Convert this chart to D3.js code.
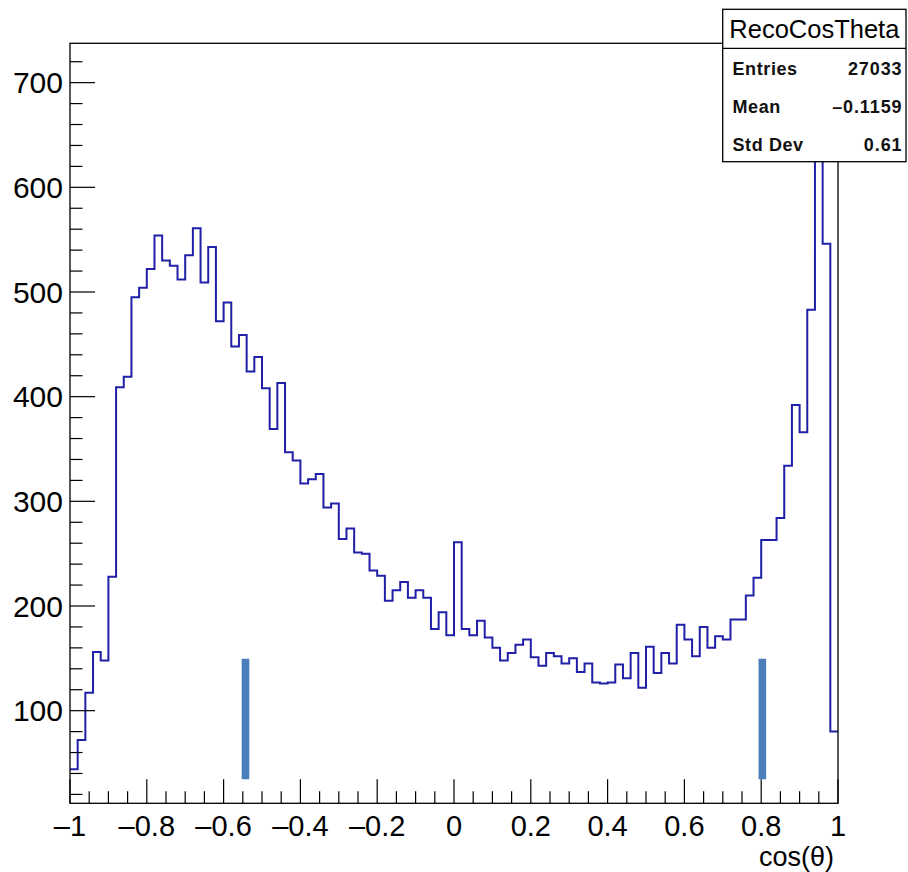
<!DOCTYPE html>
<html>
<head>
<meta charset="utf-8">
<script src="https://cdn.jsdelivr.net/npm/d3@7"></script>
<style>
  html, body { margin: 0; padding: 0; background: #fff; }
  svg { display: block; }
  text { font-family: "Liberation Sans", Arial, Helvetica, sans-serif; }
</style>
</head>
<body>
<script>
// ---------------- data ----------------
const histName = "RecoCosTheta";
const xTitle = "cos(θ)";
const xDomain = [-1, 1];
const nBins = 100;
const counts = [
  44, 72, 117, 156, 148, 228, 409, 419, 495, 504,
  522, 554, 530, 525, 512, 535, 561, 509, 543, 472,
  490, 448, 459, 424, 438, 408, 369, 413, 347, 339,
  317, 321, 326, 294, 298, 264, 274, 251, 250, 234,
  229, 205, 215, 223, 208, 215, 208, 178, 194, 172,
  261, 178, 172, 186, 170, 160, 148, 155, 163, 168,
  151, 143, 155, 152, 145, 150, 137, 145, 127, 126,
  127, 144, 131, 155, 122, 161, 136, 155, 145, 182,
  168, 152, 180, 160, 171, 168, 187, 187, 210, 227,
  263, 263, 284, 334, 392, 366, 483, 703, 546, 80
];
const yDomain = [11.5, 737.6];
const xMajorTicks = [-1, -0.8, -0.6, -0.4, -0.2, 0, 0.2, 0.4, 0.6, 0.8, 1];
const xTickLabels = ["–1", "–0.8", "–0.6", "–0.4", "–0.2", "0", "0.2", "0.4", "0.6", "0.8", "1"];
const yMajorTicks = [100, 200, 300, 400, 500, 600, 700];
const yTickLabels = ["100", "200", "300", "400", "500", "600", "700"];
const statLabels = ["Entries", "Mean", "Std Dev"];
const statValues = ["27033", "–0.1159", "0.61"];
const markerX = [-0.543, 0.803];     // vertical marker positions
const markerY = [34.5, 149.5];       // marker extent (y values)

// ---------------- layout ----------------
const W = 908, H = 872;
const frame = { left: 70, right: 838, top: 43.3, bottom: 803.3 };

const svg = d3.select("body").append("svg")
  .attr("width", W).attr("height", H);

const x = d3.scaleLinear().domain(xDomain).range([frame.left, frame.right]);
const y = d3.scaleLinear().domain(yDomain).range([frame.bottom, frame.top]);

const binW = (xDomain[1] - xDomain[0]) / nBins;
const bins = counts.map((c, i) => ({ x0: xDomain[0] + i * binW, x1: xDomain[0] + (i + 1) * binW, c }));

// clip to frame
svg.append("clipPath").attr("id", "fclip").append("rect")
  .attr("x", frame.left).attr("y", frame.top)
  .attr("width", frame.right - frame.left).attr("height", frame.bottom - frame.top);

// histogram step outline
const pts = [];
bins.forEach(b => { pts.push([x(b.x0), y(b.c)]); pts.push([x(b.x1), y(b.c)]); });
svg.append("path")
  .attr("clip-path", "url(#fclip)")
  .attr("d", d3.line()(pts))
  .attr("fill", "none")
  .attr("stroke", "#1f1fa8")
  .attr("stroke-width", 2)
  .attr("stroke-linejoin", "miter");

// vertical markers
svg.selectAll("line.marker").data(markerX).join("line")
  .attr("class", "marker")
  .attr("x1", d => x(d)).attr("x2", d => x(d))
  .attr("y1", y(markerY[0])).attr("y2", y(markerY[1]))
  .attr("stroke", "#4a7ebb")
  .attr("stroke-width", 7.6);

// axes ticks (inside frame, ROOT style)
const gT = svg.append("g").attr("stroke", "#000").attr("stroke-width", 1.2);
const xMinor = d3.range(-1, 1.0001, 0.05);
xMinor.forEach(v => {
  const isMajor = xMajorTicks.some(m => Math.abs(m - v) < 1e-6);
  gT.append("line")
    .attr("x1", x(v)).attr("x2", x(v))
    .attr("y1", frame.bottom).attr("y2", frame.bottom - (isMajor ? 24 : 12));
});
const yMinor = d3.range(20, 737, 20);
yMinor.forEach(v => {
  const isMajor = yMajorTicks.includes(v);
  gT.append("line")
    .attr("x1", frame.left).attr("x2", frame.left + (isMajor ? 25 : 12.5))
    .attr("y1", y(v)).attr("y2", y(v));
});

// frame
svg.append("rect")
  .attr("x", frame.left).attr("y", frame.top)
  .attr("width", frame.right - frame.left).attr("height", frame.bottom - frame.top)
  .attr("fill", "none").attr("stroke", "#000").attr("stroke-width", 1.3);

// tick labels
svg.selectAll("text.xl").data(xMajorTicks).join("text")
  .attr("class", "xl")
  .attr("x", d => x(d)).attr("y", 836)
  .attr("text-anchor", "middle")
  .attr("font-size", 29)
  .attr("fill", "#000")
  .text((d, i) => xTickLabels[i]);

svg.selectAll("text.yl").data(yMajorTicks).join("text")
  .attr("class", "yl")
  .attr("x", 63).attr("y", d => y(d) + 10.7)
  .attr("text-anchor", "end")
  .attr("font-size", 30)
  .attr("fill", "#000")
  .text((d, i) => yTickLabels[i]);

// axis title
svg.append("text")
  .attr("x", 834).attr("y", 866)
  .attr("text-anchor", "end")
  .attr("font-size", 27)
  .attr("fill", "#000")
  .text(xTitle);

// stats box
const box = { x0: 722.7, x1: 906, y0: 9.3, y1: 161.7, sep: 48.3 };
svg.append("rect")
  .attr("x", box.x0).attr("y", box.y0)
  .attr("width", box.x1 - box.x0).attr("height", box.y1 - box.y0)
  .attr("fill", "#fff").attr("stroke", "#000").attr("stroke-width", 1.3);
svg.append("line")
  .attr("x1", box.x0).attr("x2", box.x1).attr("y1", box.sep).attr("y2", box.sep)
  .attr("stroke", "#000").attr("stroke-width", 1.3);
svg.append("text")
  .attr("x", (box.x0 + box.x1) / 2).attr("y", 38)
  .attr("text-anchor", "middle")
  .attr("font-size", 25.5)
  .attr("fill", "#000")
  .text(histName);
const rowY = [75, 113, 151];
statLabels.forEach((lab, i) => {
  svg.append("text")
    .attr("x", 732.5).attr("y", rowY[i])
    .attr("font-size", 18).attr("font-weight", "bold")
    .attr("letter-spacing", 0.6)
    .attr("fill", "#111")
    .text(lab);
  svg.append("text")
    .attr("x", 902.5).attr("y", rowY[i])
    .attr("text-anchor", "end")
    .attr("font-size", 18).attr("font-weight", "bold")
    .attr("letter-spacing", 0.9)
    .attr("fill", "#111")
    .text(statValues[i]);
});
</script>
</body>
</html>
